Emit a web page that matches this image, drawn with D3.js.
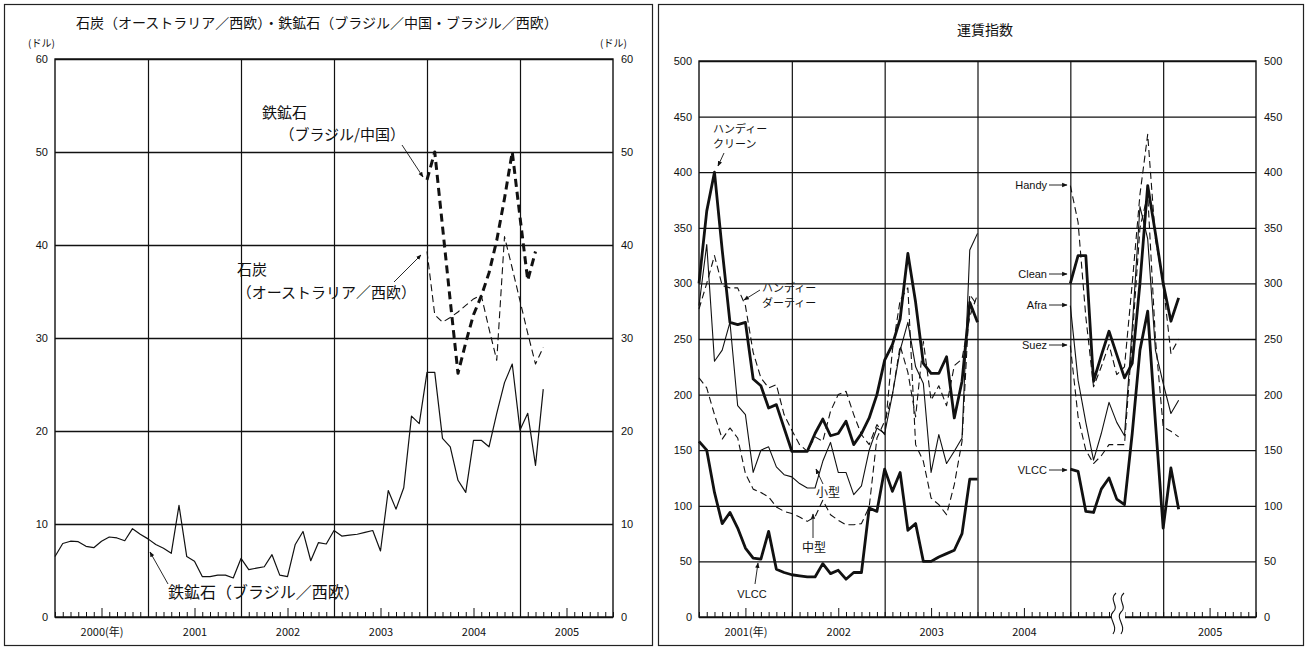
<!DOCTYPE html>
<html><head><meta charset="utf-8">
<script src="https://cdn.jsdelivr.net/npm/d3@7"></script>
<style>
body{margin:0;background:#fff}
svg{display:block}
text{font-family:"Liberation Sans",Arial,"Noto Sans CJK JP",sans-serif;fill:#111}
.jp{font-family:"Noto Sans CJK JP","Noto Sans CJK SC",sans-serif}
</style></head>
<body><svg id="c" width="1308" height="651"></svg>
<script>
// ---------------- DATA ----------------
// Left panel: freight (US$/ton), x = month index from Jan 2000
const leftYearLabels = ["2000(年)", "2001", "2002", "2003", "2004", "2005"];
const leftYTicks = [0, 10, 20, 30, 40, 50, 60];
const ironBrEuStart = 0;
const ironBrEu = [6.5, 7.9, 8.15, 8.1, 7.6, 7.45, 8.15, 8.6, 8.5, 8.2, 9.5, 8.9, 8.4, 7.8, 7.4, 6.85,
  12.0, 6.5, 6.0, 4.35, 4.35, 4.5, 4.5, 4.2, 6.3, 5.1, 5.25, 5.4, 6.7, 4.5, 4.35, 7.8,
  9.2, 6.05, 8.0, 7.85, 9.3, 8.7, 8.8, 8.9, 9.1, 9.3, 7.1, 13.6, 11.6, 13.9, 21.6, 20.8,
  26.3, 26.3, 19.2, 18.3, 14.7, 13.4, 19.0, 19.0, 18.3, 21.9, 25.2, 27.2, 20.1, 21.9, 16.3, 24.5];
const ironBrCnStart = 48;
const ironBrCn = [47, 50, 42, 34, 26.2, 29.5, 32.5, 34.5, 37, 40.5, 45, 50, 43, 36.2, 39.3];
const coalAuEuStart = 48;
const coalAuEu = [39.3, 32.5, 31.7, 32.2, 32.8, 33.5, 34.2, 34.6, 31.0, 27.6, 40.9, 37.5, 34.0, 30.5, 27.2, 29.0];

// Right panel: freight index, x = month slot from Jan 2001
const rightYearLabels = ["2001(年)", "2002", "2003", "2004", "", "2005"];
const rightYTicks = [0, 50, 100, 150, 200, 250, 300, 350, 400, 450, 500];
const sec1Start = 0;
const handyClean = [300, 365, 400, 330, 265, 263, 265, 214, 208, 188, 191, 170, 149, 149, 149, 165, 178, 163, 165, 176,
  155, 165, 179, 200, 231, 245, 268, 327, 283, 228, 219, 219, 234, 179, 212, 283, 265];
const handyDirty = [277, 300, 325, 298, 296, 296, 280, 238, 215, 206, 209, 182, 168, 155, 149, 162, 158, 185, 200, 203,
  182, 164, 155, 173, 164, 240, 285, 296, 155, 140, 107, 101, 92, 119, 158, 290, 280];
const small = [280, 335, 230, 240, 265, 190, 182, 130, 150, 153, 135, 128, 126, 120, 116, 116, 140, 157, 130, 130,
  110, 118, 150, 170, 165, 200, 240, 265, 225, 210, 130, 164, 138, 149, 161, 330, 345];
const medium = [215, 206, 182, 160, 170, 161, 129, 115, 112, 108, 99, 95, 93, 90, 86, 90, 105, 92, 87, 83,
  83, 84, 99, 161, 176, 200, 244, 220, 180, 248, 195, 208, 190, 226, 232, 270, 290];
const vlcc1 = [158, 150, 112, 84, 94, 80, 62, 53, 52, 77, 43, 40, 38, 37, 36, 36, 48, 39, 42, 34,
  40, 40, 98, 95, 133, 113, 130, 78, 84, 50, 50, 54, 57, 60, 75, 124, 124];
const sec2Start = 48;
const handy2 = [388, 355, 270, 207, 225, 245, 218, 225, 300, 380, 434, 340, 300, 237, 250];
const clean2 = [300, 325, 325, 212, 235, 257, 236, 215, 228, 300, 388, 345, 300, 266, 287];
const afra2 = [280, 213, 175, 141, 165, 193, 175, 163, 260, 369, 340, 240, 210, 183, 195];
const suez2 = [244, 180, 150, 138, 145, 155, 155, 155, 250, 350, 380, 250, 171, 167, 162];
const vlcc2 = [133, 131, 95, 94, 115, 125, 106, 101, 165, 240, 275, 175, 80, 134, 97];

// ---------------- DRAW ----------------
const svg = d3.select("#c");
svg.append("rect").attr("width", 1308).attr("height", 651).attr("fill", "#fff");

const defs = svg.append("defs");
defs.append("marker").attr("id", "ah").attr("viewBox", "0 0 10 10").attr("refX", 9).attr("refY", 5)
  .attr("markerWidth", 6).attr("markerHeight", 6).attr("orient", "auto")
  .append("path").attr("d", "M0,1 L10,5 L0,9 z").attr("fill", "#111");

// outer frames
svg.append("rect").attr("x", 4.5).attr("y", 4.5).attr("width", 648).attr("height", 641)
  .attr("fill", "none").attr("stroke", "#222").attr("stroke-width", 1.2);
svg.append("rect").attr("x", 658.5).attr("y", 4.5).attr("width", 645).attr("height", 641)
  .attr("fill", "none").attr("stroke", "#222").attr("stroke-width", 1.2);

function panel(cfg) {
  const g = svg.append("g");
  const x = d3.scaleLinear().domain([0, 72]).range([cfg.x0, cfg.x1]);
  const y = d3.scaleLinear().domain([0, cfg.ymax]).range([cfg.yb, cfg.yt]);
  const W = cfg.x1 - cfg.x0, H = cfg.yb - cfg.yt;
  g.append("g").attr("transform", `translate(${cfg.x0},0)`)
    .call(d3.axisLeft(y).tickValues(cfg.yticks).tickSize(-W).tickFormat(""))
    .call(a => a.select(".domain").remove())
    .selectAll("line").attr("stroke", "#111").attr("stroke-width", 1.3);
  g.append("g").attr("transform", `translate(0,${cfg.yb})`)
    .call(d3.axisBottom(x).tickValues([12, 24, 36, 48, 60]).tickSize(-H).tickFormat(""))
    .call(a => a.select(".domain").remove())
    .selectAll("line").attr("stroke", "#111").attr("stroke-width", 1.2);
  g.append("rect").attr("x", cfg.x0).attr("y", cfg.yt).attr("width", W).attr("height", H)
    .attr("fill", "none").attr("stroke", "#111").attr("stroke-width", 1.4);
  const tk = g.append("g").attr("transform", `translate(0,${cfg.yb})`)
    .call(d3.axisBottom(x).tickValues(d3.range(0, 73)).tickSize(-5).tickFormat(""));
  tk.select(".domain").remove();
  tk.selectAll(".tick line").attr("stroke", "#111").attr("stroke-width", 1)
    .attr("y2", d => (d % 12 === 6 ? -9 : -5));
  g.append("g").attr("transform", `translate(0,${cfg.yb + 8})`)
    .call(d3.axisBottom(x).tickValues([6, 18, 30, 42, 54, 66]).tickSize(0)
      .tickFormat((d, i) => cfg.years[i]))
    .call(a => a.select(".domain").remove())
    .selectAll("text").attr("font-size", 11).attr("class", "jp").style("fill", "#111");
  g.append("g").attr("transform", `translate(${cfg.x0 - 4},0)`)
    .call(d3.axisLeft(y).tickValues(cfg.yticks).tickSize(0))
    .call(a => a.select(".domain").remove())
    .selectAll("text").attr("font-size", 11).style("fill", "#111");
  g.append("g").attr("transform", `translate(${cfg.x1 + 5},0)`)
    .call(d3.axisRight(y).tickValues(cfg.yticks).tickSize(0))
    .call(a => a.select(".domain").remove())
    .selectAll("text").attr("font-size", 11).style("fill", "#111");
  return {g, x, y};
}

const L = panel({x0: 55, x1: 613, yt: 59, yb: 617, ymax: 60, yticks: leftYTicks, years: leftYearLabels});
const R = panel({x0: 699, x1: 1256, yt: 61, yb: 617, ymax: 500, yticks: rightYTicks, years: rightYearLabels});

function series(P, start, vals, width, dash) {
  const pts = vals.map((v, i) => [start + i, v]);
  P.g.append("path").datum(pts)
    .attr("d", d3.line().x(d => P.x(d[0])).y(d => P.y(d[1])))
    .attr("fill", "none").attr("stroke", "#111").attr("stroke-width", width)
    .attr("stroke-linejoin", "round")
    .attr("stroke-dasharray", dash || null);
}
series(L, ironBrEuStart, ironBrEu, 1.2);
series(L, coalAuEuStart, coalAuEu, 1.1, "7,4");
series(L, ironBrCnStart, ironBrCn, 3, "8,5");

series(R, sec1Start, small, 1.1);
series(R, sec1Start, medium, 1.1, "7,4");
series(R, sec1Start, handyDirty, 1.1, "7,4");
series(R, sec1Start, handyClean, 2.8);
series(R, sec1Start, vlcc1, 2.8);
series(R, sec2Start, afra2, 1.1);
series(R, sec2Start, suez2, 1.1, "7,4");
series(R, sec2Start, handy2, 1.1, "7,4");
series(R, sec2Start, clean2, 2.8);
series(R, sec2Start, vlcc2, 2.8);

// axis break symbol on right panel
const bx = 1118;
const brk = svg.append("g");
brk.append("rect").attr("x", bx - 7).attr("y", 606).attr("width", 14).attr("height", 14).attr("fill", "#fff");
[-4, 4].forEach(dx => {
  brk.append("path")
    .attr("d", `M${bx + dx + 2},593 C${bx + dx - 6},600 ${bx + dx + 6},606 ${bx + dx - 1},612 C${bx + dx - 7},618 ${bx + dx + 5},626 ${bx + dx - 1},634`)
    .attr("fill", "none").attr("stroke", "#111").attr("stroke-width", 1.1);
});

// ---------------- TEXT ----------------
function txt(x, y, s, size, anchor, cls) {
  return svg.append("text").attr("x", x).attr("y", y).attr("font-size", size)
    .attr("text-anchor", anchor || "start").attr("class", cls || "jp").text(s);
}
function arrow(x1, y1, x2, y2) {
  svg.append("line").attr("x1", x1).attr("y1", y1).attr("x2", x2).attr("y2", y2)
    .attr("stroke", "#111").attr("stroke-width", 0.9).attr("marker-end", "url(#ah)");
}
txt(76, 28, "石炭（オーストラリア／西欧）・鉄鉱石（ブラジル／中国・ブラジル／西欧）", 14);
txt(985, 35, "運賃指数", 14, "middle");
txt(28, 47, "(ドル)", 10);
txt(600, 47, "(ドル)", 10);

txt(262, 118, "鉄鉱石", 15);
txt(405, 140, "（ブラジル/中国）", 15, "end");
arrow(402, 145, 423, 177);
txt(237, 275, "石炭", 15);
txt(416, 298, "（オーストラリア／西欧）", 15, "end");
arrow(394, 282, 421, 255);
txt(168, 598, "鉄鉱石（ブラジル／西欧）", 16);
arrow(168, 584, 150, 552);

txt(713, 133, "ハンディー", 11);
txt(713, 148, "クリーン", 11);
arrow(724, 153, 718, 166);
txt(762, 292, "ハンディー", 11);
txt(762, 307, "ダーティー", 11);
arrow(760, 290, 744, 300);
txt(828, 497, "小型", 12, "middle");
arrow(823, 484, 816, 469);
txt(814, 552, "中型", 12, "middle");
arrow(813, 538, 813, 514);
txt(752, 598, "VLCC", 11, "middle", "lat");
arrow(755, 584, 758, 563);

[["Handy", 189, 185], ["Clean", 278, 274], ["Afra", 309, 305], ["Suez", 349, 345], ["VLCC", 474, 470]]
  .forEach(([s, yb, ya]) => {
    txt(1047, yb, s, 11, "end", "lat");
    arrow(1049, ya, 1067, ya);
  });
</script></body></html>
